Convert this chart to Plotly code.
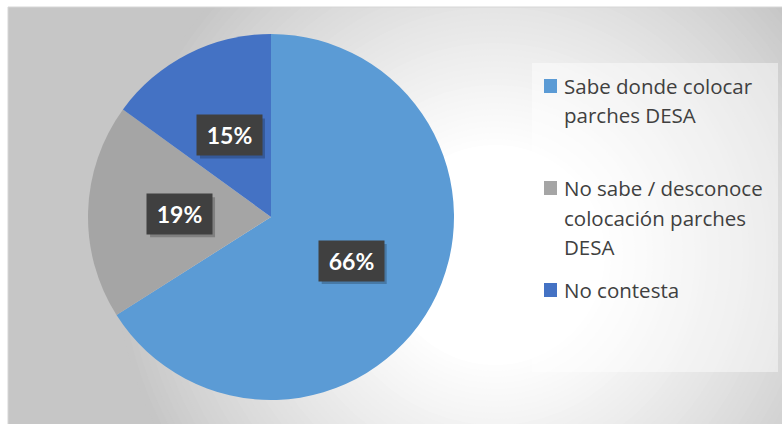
import math
import textwrap
import plotly.graph_objects as go

# ---- data ----
categories = ["Sabe donde colocar parches DESA",
              "No sabe / desconoce colocación parches DESA",
              "No contesta"]
values = [66, 19, 15]
colors = ["#5B9BD5", "#A5A5A5", "#4472C4"]

# ---- layout constants (pixels) ----
W, H = 782, 424
CX, CY, R = 271, 217, 183          # pie centre / radius in pixels (y from top)


def px(x):
    return x / W


def py(y):
    return 1 - y / H


fig = go.Figure()
fig.add_trace(go.Pie(
    labels=categories, values=values, sort=False, direction="clockwise",
    rotation=0, marker=dict(colors=colors, line=dict(width=0)),
    textinfo="none", hoverinfo="label+percent", showlegend=False,
    domain=dict(x=[px(CX - R), px(CX + R)], y=[py(CY + R), py(CY - R)]),
))

shapes = []
# background: gray base + radial gradient toward white
x0b, y0b = 8, 7
shapes.append(dict(type="rect", xref="paper", yref="paper", layer="below",
                   x0=px(x0b), x1=1, y0=0, y1=py(y0b),
                   fillcolor="#c6c6c6", line=dict(width=0)))
gcx, gcy = 495, 255
r_out, r_in = 380, 110
N = 45
for i in range(N + 1):
    t = i / N
    r = r_out - (r_out - r_in) * t
    c = int(198 + (255 - 198) * (t ** 0.85))
    col = f"rgb({c},{c},{c})"
    shapes.append(dict(type="circle", xref="paper", yref="paper", layer="below",
                       x0=px(gcx - r), x1=px(gcx + r), y0=py(gcy + r), y1=py(gcy - r),
                       fillcolor=col, line=dict(width=0)))
# white outer margins (top and left)
shapes.append(dict(type="rect", xref="paper", yref="paper", layer="below",
                   x0=0, x1=1, y0=py(y0b), y1=1.02, fillcolor="white", line=dict(width=0)))
shapes.append(dict(type="rect", xref="paper", yref="paper", layer="below",
                   x0=-0.02, x1=px(x0b), y0=-0.02, y1=1.02, fillcolor="white", line=dict(width=0)))
shapes.append(dict(type="line", xref="paper", yref="paper", layer="below",
                   x0=px(x0b), x1=1, y0=py(y0b), y1=py(y0b), line=dict(color="#d6d6d6", width=1)))
shapes.append(dict(type="line", xref="paper", yref="paper", layer="below",
                   x0=px(x0b), x1=px(x0b), y0=0, y1=py(y0b), line=dict(color="#d6d6d6", width=1)))

# legend box
shapes.append(dict(type="rect", xref="paper", yref="paper", layer="below",
                   x0=px(532), x1=px(778), y0=py(372), y1=py(63),
                   fillcolor="rgba(255,255,255,0.45)", line=dict(width=0)))

annotations = []
# data labels at mid-angle, half radius
BW, BH = 65, 40
total = sum(values)
cum = 0
for v in values:
    mid = (cum + v / 2) / total
    cum += v
    th = 2 * math.pi * mid
    lx = CX + 0.5 * R * math.sin(th)
    ly = CY - 0.5 * R * math.cos(th)
    txt = f"{round(100 * v / total)}%"
    # shadow (shape, above pie)
    shapes.append(dict(type="rect", xref="paper", yref="paper", layer="above",
                       x0=px(lx - BW / 2 + 3), x1=px(lx + BW / 2 + 3),
                       y0=py(ly + BH / 2 + 3), y1=py(ly - BH / 2 + 3),
                       fillcolor="rgba(0,0,0,0.22)", line=dict(width=0)))
    annotations.append(dict(x=px(lx), y=py(ly), xref="paper", yref="paper",
                            xanchor="center", yanchor="middle",
                            text=f"<b>{txt}</b>", showarrow=False,
                            width=BW, height=BH, bgcolor="#404040", borderpad=0,
                            font=dict(family="Lato", size=23, color="white")))

# legend (manual)
item_y = [86, 188, 290]
line_h = 29.5
for cat, col, y0 in zip(categories, colors, item_y):
    shapes.append(dict(type="rect", xref="paper", yref="paper",
                       x0=px(544), x1=px(557), y0=py(y0 + 7), y1=py(y0 - 7),
                       fillcolor=col, line=dict(width=0)))
    for k, line in enumerate(textwrap.wrap(cat, 19)):
        annotations.append(dict(x=px(562), y=py(y0 + k * line_h), xref="paper", yref="paper",
                                text=line, showarrow=False, xanchor="left", yanchor="middle",
                                font=dict(family="Open Sans", size=20.5, color="#404040")))

fig.update_layout(
    width=W, height=H, margin=dict(l=0, r=0, t=0, b=0),
    paper_bgcolor="white", plot_bgcolor="white",
    shapes=shapes, annotations=annotations, showlegend=False,
)
fig.write_html("out.html")
